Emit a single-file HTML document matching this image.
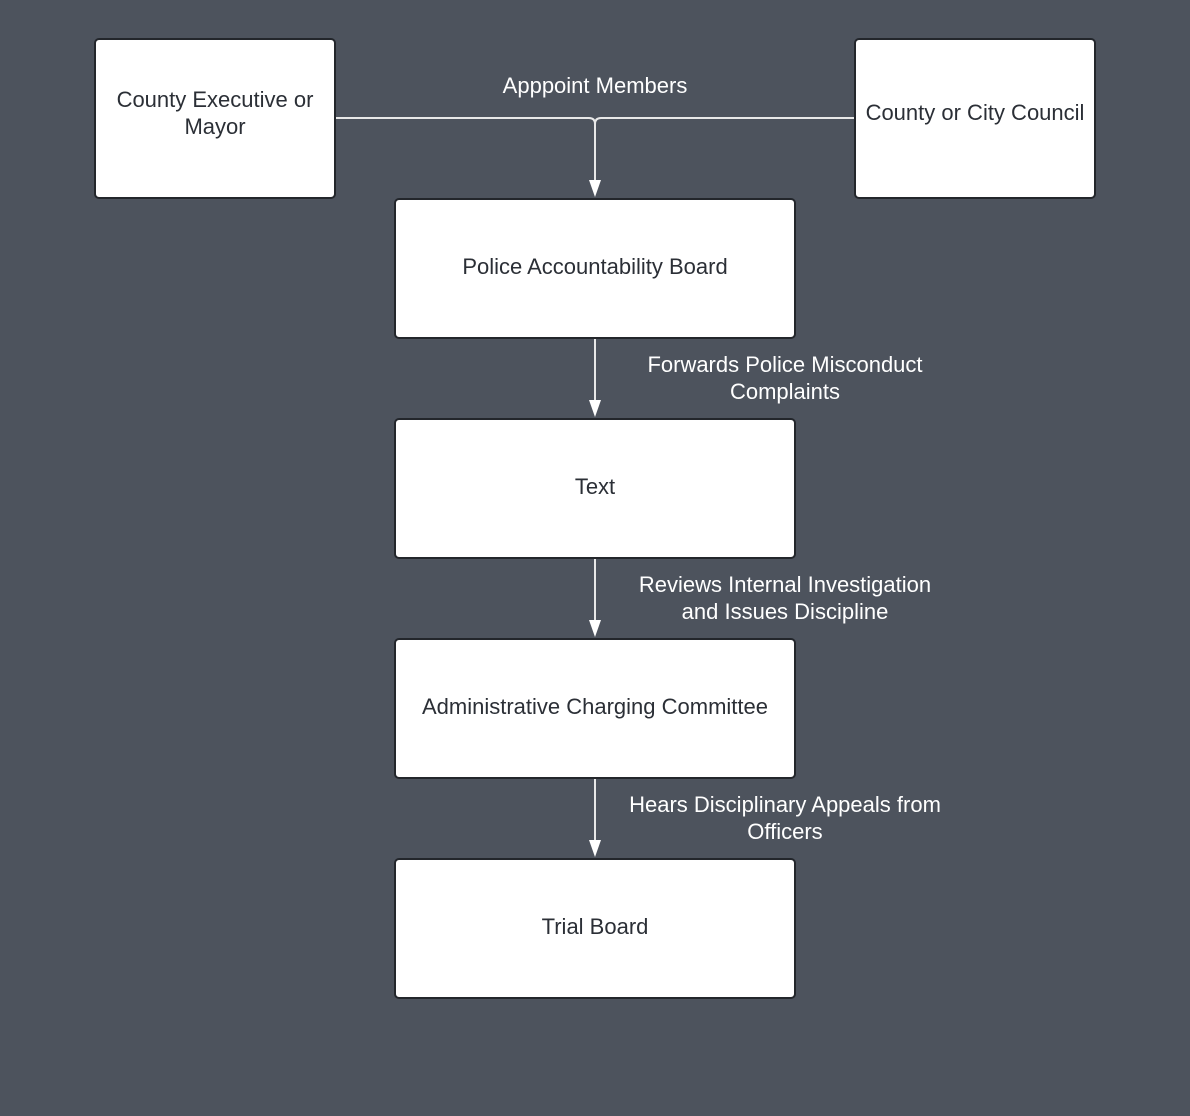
<!DOCTYPE html>
<html><head><style>
body{margin:0;width:1190px;height:1116px;background:#4d535d;font-family:"Liberation Sans",sans-serif;position:relative;overflow:hidden}
.b{position:absolute;background:#fff;border:2px solid #23262b;border-radius:5px;box-sizing:border-box;display:flex;align-items:center;justify-content:center;text-align:center;color:#2b2f36;font-size:22px;line-height:27px;padding-bottom:4px}
.l{position:absolute;color:#fff;font-size:22px;line-height:27px;text-align:center}
svg{position:absolute;left:0;top:0}
</style></head><body>
<svg width="1190" height="1116">
<g stroke="#e8e8e8" stroke-width="2" fill="none">
<path d="M335 118 H589 Q595 118 595 124 M855 118 H601 Q595 118 595 124 V184"/>
<path d="M595 338 V404"/>
<path d="M595 558 V624"/>
<path d="M595 778 V844"/>
</g>
<g fill="#fff">
<path d="M589 180 L601 180 L595 197 Z"/>
<path d="M589 400 L601 400 L595 417 Z"/>
<path d="M589 620 L601 620 L595 637 Z"/>
<path d="M589 840 L601 840 L595 857 Z"/>
</g>
</svg>
<div class="b" style="left:94px;top:38px;width:242px;height:161px;padding-bottom:12px">County Executive or<br>Mayor</div>
<div class="b" style="left:854px;top:38px;width:242px;height:161px;padding-bottom:12px">County or City Council</div>
<div class="b" style="left:394px;top:198px;width:402px;height:141px">Police Accountability Board</div>
<div class="b" style="left:394px;top:418px;width:402px;height:141px">Text</div>
<div class="b" style="left:394px;top:638px;width:402px;height:141px">Administrative Charging Committee</div>
<div class="b" style="left:394px;top:858px;width:402px;height:141px">Trial Board</div>
<div class="l" style="left:445px;top:72px;width:300px">Apppoint Members</div>
<div class="l" style="left:600px;top:351px;width:370px">Forwards Police Misconduct<br>Complaints</div>
<div class="l" style="left:600px;top:571px;width:370px">Reviews Internal Investigation<br>and Issues Discipline</div>
<div class="l" style="left:585px;top:791px;width:400px">Hears Disciplinary Appeals from<br>Officers</div>
</body></html>
